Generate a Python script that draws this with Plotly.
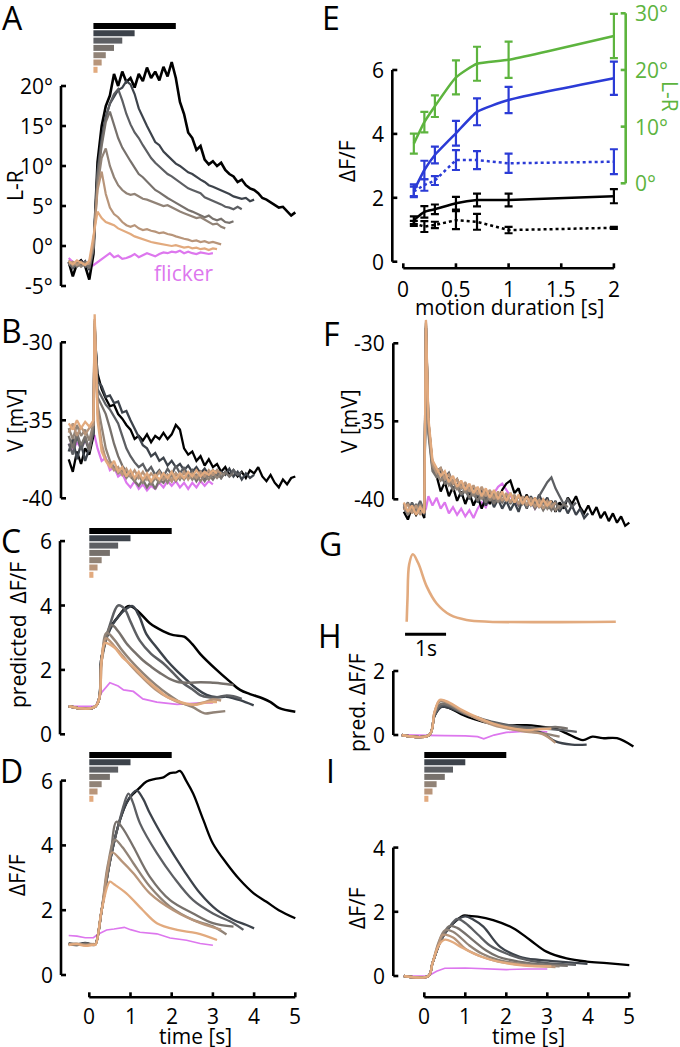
import numpy as np
import plotly.graph_objects as go

W, H = 680, 1047
FONT = "Open Sans"
FS = 21

# ---------------- data ----------------
DUR = [2, 1, 0.7, 0.5, 0.3, 0.2, 0.1]
COLORS = ["#000000", "#3d434b", "#5d5f63", "#77716c", "#918377", "#b8957a", "#e2aa7e"]
FLICKER = "#dd77ee"
BLUE = "#2b3bd6"
GREEN = "#5db43e"

# Panel A: L-R (deg), sampled every 0.1 s from -0.5 s
A_2 = [-2.0, -3.8, -2.2, -1.8, -2.5, -4.2, -1.0, 10.5, 15.0, 17.5, 18.8, 21.5, 20.0, 21.8, 20.5, 21.0, 19.8, 21.5,
       20.6, 22.3, 21.0, 21.8, 20.7, 22.4, 21.2, 23.0, 21.0, 18.0, 16.5, 14.2, 13.5, 12.0, 12.5, 10.8, 10.2, 10.6,
       10.0, 10.4, 9.5, 9.0, 8.7, 8.0, 8.3, 7.6, 7.2, 7.0, 6.6, 6.0, 5.8, 5.5, 5.2, 4.8, 4.9, 4.3, 3.8, 4.2]
A_1 = [-2.3, -2.6, -2.0, -2.4, -1.9, -3.0, -0.5, 9.5, 13.5, 16.2, 17.8, 18.6, 19.5, 19.8, 20.6, 20.2, 19.0, 17.2,
       16.0, 15.0, 14.0, 13.0, 12.6, 11.8, 11.3, 10.8, 10.3, 10.0, 9.6, 9.2, 9.0, 8.6, 8.3, 8.0, 7.6, 7.4, 7.2,
       6.9, 6.7, 6.5, 6.2, 6.0, 5.9, 6.0, 5.6, 5.8]
A_07 = [-2.1, -2.8, -2.3, -1.9, -2.6, -2.5, -0.2, 9.0, 13.0, 16.0, 17.8, 19.0, 19.6, 18.2, 16.5, 15.2, 14.2, 13.5,
        12.6, 11.8, 11.0, 10.4, 9.9, 9.4, 9.0, 8.7, 8.3, 7.9, 7.6, 7.2, 7.0, 6.8, 6.6, 6.1, 5.9, 5.6, 5.4, 5.2,
        4.9, 4.8, 4.6, 4.9, 4.6]
A_05 = [-2.4, -2.0, -2.6, -2.2, -2.0, -2.8, -0.3, 8.5, 12.5, 15.5, 16.8, 15.0, 13.5, 12.3, 11.4, 10.6, 9.8, 9.0,
        8.6, 8.1, 7.6, 7.0, 6.7, 6.3, 6.0, 5.7, 5.4, 5.0, 4.8, 4.5, 4.3, 4.1, 3.9, 3.6, 3.8, 3.4, 3.2, 3.4, 3.0,
        2.9, 3.1]
A_03 = [-1.8, -2.5, -2.1, -2.6, -2.2, -2.0, 0.0, 7.5, 11.0, 12.2, 10.0, 8.6, 7.6, 7.0, 6.6, 6.4, 6.5, 6.2, 5.9,
        5.8, 5.6, 5.3, 5.2, 5.0, 5.1, 4.8, 4.5, 4.3, 4.1, 3.9, 3.7, 3.5, 3.6, 3.3, 3.0, 2.7, 2.8, 2.4, 2.2]
A_02 = [-2.2, -2.0, -2.4, -2.0, -2.3, -2.2, 0.5, 7.0, 9.3, 6.5, 4.8, 4.0, 3.6, 3.0, 2.6, 2.4, 2.6, 2.2, 2.0, 2.1,
        1.9, 1.8, 1.6, 1.7, 1.5, 1.4, 1.2, 1.0, 0.9, 0.8, 0.6, 0.7, 0.5, 0.6, 0.4, 0.5, 0.3, 0.2]
A_01 = [-1.9, -2.3, -1.8, -2.1, -2.4, -1.8, 1.0, 4.3, 3.5, 3.0, 2.8, 2.6, 2.2, 2.0, 1.8, 1.5, 1.2, 1.0, 0.8, 0.7,
        0.5, 0.4, 0.3, 0.2, 0.1, 0.0, 0.1, -0.1, -0.2, -0.1, -0.3, -0.2, -0.4, -0.3, -0.5, -0.3, -0.4]
A_FL = [-1.5, -2.0, -2.2, -1.8, -2.3, -2.6, -2.4, -2.0, -1.6, -1.2, -0.9, -1.4, -1.2, -1.6, -1.5, -1.3, -1.0, -1.4,
        -1.2, -0.9, -1.1, -1.3, -1.0, -0.8, -0.9, -0.7, -0.8, -0.6, -0.9, -0.7, -0.9, -1.0, -0.8, -0.9, -1.0, -0.9]
A_SERIES = [A_2, A_1, A_07, A_05, A_03, A_02, A_01]

# Panel B: V (mV); 7 samples from -0.5 s, one spike sample, then every 0.1 s from 0.2 s
B_2 = [-37.5, -38.3, -37.0, -37.8, -36.8, -37.2, -36.0, -29.5, -32.0, -33.0, -33.6, -34.1, -34.0, -34.6, -34.9,
       -35.3, -35.6, -36.2, -36.0, -36.3, -35.9, -36.4, -36.0, -36.2, -35.8, -36.2, -35.9, -35.3, -35.6, -36.8,
       -37.2, -37.0, -37.6, -37.3, -37.9, -37.5, -38.0, -37.8, -38.3, -38.0, -38.5, -38.2, -38.6, -38.3, -38.7,
       -38.2, -38.4, -38.0, -38.6, -38.9, -38.5, -39.0, -39.3, -38.8, -39.1, -38.7, -38.6]
B_1 = [-37.0, -36.2, -37.5, -36.5, -37.6, -36.8, -35.8, -29.0, -32.5, -32.8, -33.5, -33.4, -33.9, -33.8, -34.5,
       -34.4, -35.0, -35.5, -36.0, -36.6, -36.8, -37.3, -37.1, -37.6, -37.4, -37.9, -37.6, -38.0, -37.8, -38.2,
       -37.9, -38.3, -38.0, -38.4, -38.1, -38.5, -38.2, -38.6, -38.3, -38.5, -38.1, -38.6, -38.3, -38.8, -38.4,
       -38.7, -38.5]
B_07 = [-36.5, -37.2, -36.0, -36.9, -36.2, -37.0, -35.6, -29.0, -33.0, -33.5, -34.0, -34.3, -34.8, -35.2, -36.0,
        -36.8, -37.3, -37.7, -38.0, -37.8, -38.3, -38.0, -38.5, -38.2, -38.6, -38.1, -38.5, -37.9, -38.4, -38.0,
        -38.6, -38.2, -38.7, -38.3, -38.8, -38.4, -38.6, -38.2, -38.7, -38.3, -38.6, -38.2, -38.5, -38.3]
B_05 = [-36.0, -36.8, -35.8, -36.6, -36.0, -36.9, -35.4, -28.8, -33.5, -34.0, -34.6, -35.5, -36.5, -37.3, -37.9,
        -38.3, -38.6, -38.9, -39.2, -38.8, -39.3, -38.9, -39.4, -38.8, -39.0, -38.5, -38.9, -38.4, -38.8, -38.3,
        -38.7, -38.4, -38.9, -38.5, -38.9, -38.5, -38.8, -38.4, -38.7, -38.3, -38.6, -38.4]
B_03 = [-35.5, -36.2, -35.3, -36.0, -35.6, -36.3, -35.2, -28.6, -34.0, -35.5, -36.8, -37.6, -38.0, -38.4, -38.2,
        -38.7, -38.4, -38.9, -38.5, -39.0, -38.6, -39.1, -38.7, -39.0, -38.6, -39.0, -38.5, -38.9, -38.5, -38.8,
        -38.4, -38.8, -38.5, -38.9, -38.5, -38.8, -38.4, -38.7, -38.4, -38.5]
B_02 = [-35.8, -35.2, -36.0, -35.4, -35.9, -35.5, -35.3, -28.5, -34.5, -36.5, -37.5, -37.8, -38.2, -38.0, -38.5,
        -38.1, -38.6, -38.2, -38.7, -38.3, -38.8, -38.4, -38.7, -38.3, -38.8, -38.5, -38.9, -38.4, -38.7, -38.3,
        -38.8, -38.4, -38.7, -38.3, -38.6, -38.2, -38.5, -38.2, -38.4]
B_01 = [-35.2, -35.6, -35.0, -35.5, -35.1, -35.4, -35.0, -28.2, -35.0, -37.0, -37.6, -38.0, -37.6, -38.3, -38.0,
        -38.6, -38.2, -38.7, -38.3, -38.8, -38.4, -38.9, -38.5, -38.8, -38.4, -38.7, -38.3, -38.8, -38.4, -38.7,
        -38.3, -38.6, -38.2, -38.6, -38.3, -38.5, -38.2, -38.4]
B_FL = [-36.5, -37.0, -36.4, -36.8, -36.3, -36.7, -36.0, -36.0, -36.8, -37.6, -37.4, -38.2, -38.0, -38.6, -38.4,
        -39.0, -39.3, -38.9, -39.4, -39.1, -39.5, -39.2, -39.4, -39.0, -39.3, -38.9, -39.2, -38.9, -39.3, -39.0,
        -39.4, -39.0, -39.3, -38.9, -39.2, -38.9, -39.1]
B_SERIES = [B_2, B_1, B_07, B_05, B_03, B_02, B_01]

# Panel F: V (mV); 6 samples from -0.5 s, spike sample, then every 0.1 s from 0.1 s
F_2 = [-40.8, -41.3, -40.5, -41.0, -40.6, -41.2, -29.0, -35.0, -37.8, -38.5, -39.5, -38.9, -39.8, -39.2, -40.1,
       -39.5, -40.3, -39.6, -40.4, -39.8, -40.6, -39.9, -40.3, -39.7, -40.2, -39.4, -39.0, -38.8, -39.6, -39.3,
       -40.2, -39.7, -40.4, -39.9, -40.5, -40.0, -40.6, -40.1, -40.8, -40.2, -40.6, -39.9, -40.3, -39.8, -40.5,
       -40.9, -40.4, -41.0, -40.5, -41.2, -40.8, -41.4, -40.9, -41.5, -41.1, -41.7, -41.5]
F_1 = [-40.5, -41.0, -40.3, -40.9, -40.4, -41.0, -29.0, -35.5, -38.0, -38.4, -38.2, -39.0, -38.6, -39.4, -39.0,
       -39.8, -39.3, -40.0, -39.5, -40.2, -39.7, -40.4, -39.8, -40.5, -40.0, -40.6, -40.1, -40.7, -40.2, -40.8,
       -40.0, -40.6, -39.8, -40.4, -39.7, -40.3, -39.9, -40.6, -40.1, -40.8, -40.3, -40.9, -40.4, -41.0, -40.6,
       -41.2, -40.9]
F_07 = [-40.3, -40.9, -40.2, -40.7, -40.1, -40.8, -28.9, -35.2, -37.8, -38.2, -38.0, -38.6, -38.3, -39.0, -38.7,
        -39.3, -39.0, -39.6, -39.2, -39.8, -39.4, -40.0, -39.5, -40.1, -39.6, -40.2, -39.7, -40.2, -39.8, -40.3,
        -39.9, -40.4, -40.0, -40.3, -39.8, -39.3, -38.9, -38.6, -39.3, -39.8, -40.3, -40.0, -40.5, -40.2]
F_05 = [-40.6, -40.2, -40.8, -40.3, -40.9, -40.4, -28.8, -35.8, -38.2, -38.6, -38.4, -39.0, -38.8, -39.4, -39.1,
        -39.7, -39.3, -39.9, -39.5, -40.1, -39.6, -40.2, -39.7, -40.3, -39.8, -40.2, -39.7, -40.3, -39.9, -40.4,
        -40.0, -40.5, -40.1, -40.6, -40.2, -40.7, -40.3, -40.7, -40.2, -40.6, -40.3, -40.5]
F_03 = [-40.4, -41.0, -40.5, -40.9, -40.3, -40.8, -28.7, -35.3, -37.9, -38.4, -38.8, -38.5, -39.1, -38.8, -39.4,
        -39.0, -39.6, -39.2, -39.8, -39.4, -40.0, -39.5, -40.1, -39.6, -40.2, -39.7, -40.1, -39.6, -40.2, -39.8,
        -40.3, -39.9, -40.4, -40.0, -40.5, -40.1, -40.6, -40.2, -40.7, -40.4]
F_02 = [-40.7, -40.3, -40.9, -40.4, -41.0, -40.5, -28.6, -35.0, -37.7, -38.3, -38.0, -38.7, -38.4, -39.0, -38.7,
        -39.3, -38.9, -39.5, -39.1, -39.7, -39.2, -39.8, -39.4, -40.0, -39.5, -40.1, -39.6, -40.2, -39.7, -40.3,
        -39.8, -40.4, -39.9, -40.5, -40.0, -40.6, -40.1, -40.5, -40.2]
F_01 = [-40.2, -40.8, -40.4, -41.0, -40.5, -40.9, -28.5, -34.8, -37.5, -38.0, -38.5, -38.2, -38.9, -38.5, -39.2,
        -38.8, -39.4, -39.0, -39.6, -39.2, -39.8, -39.3, -39.9, -39.4, -40.0, -39.5, -40.1, -39.6, -40.2, -39.7,
        -40.3, -39.8, -40.4, -39.9, -40.5, -40.0, -40.4, -40.1]
F_FL = [-40.5, -40.9, -40.4, -40.8, -40.5, -40.8, -40.6, -39.8, -40.4, -39.9, -40.6, -40.2, -40.9, -40.5, -41.0,
        -40.6, -41.1, -40.7, -41.2, -40.6, -40.2, -40.5, -39.9, -39.6, -39.2, -39.0, -39.4, -39.8, -40.1, -40.4,
        -40.0, -40.5, -40.1, -40.6, -40.2, -40.6, -40.3]
F_SERIES = [F_2, F_1, F_07, F_05, F_03, F_02, F_01]

# Panel C: predicted dF/F (time, value) knots
C_T = [
    [-0.5, 0.15, 0.3, 0.5, 0.7, 0.9, 1.0, 1.2, 1.47, 1.8, 2.04, 2.3, 2.5, 2.69, 3.09, 3.4, 3.66, 3.9, 4.2, 4.4, 4.6, 5.0],
    [-0.5, 0.15, 0.3, 0.5, 0.7, 0.9, 1.05, 1.2, 1.39, 1.6, 1.88, 2.1, 2.36, 2.6, 2.85, 3.1, 3.33, 3.5, 3.66, 3.99],
    [-0.5, 0.15, 0.3, 0.5, 0.7, 0.85, 1.0, 1.23, 1.5, 1.8, 2.0, 2.29, 2.5, 2.69, 2.9, 3.1, 3.3, 3.5, 3.7],
    [-0.5, 0.15, 0.3, 0.54, 0.7, 0.9, 1.1, 1.3, 1.5, 1.72, 1.95, 2.13, 2.4, 2.7, 3.0, 3.2, 3.5],
    [-0.5, 0.15, 0.3, 0.42, 0.6, 0.8, 1.0, 1.3, 1.6, 1.9, 2.2, 2.5, 2.8, 3.0, 3.3],
    [-0.5, 0.15, 0.3, 0.4, 0.6, 0.8, 1.0, 1.3, 1.6, 1.9, 2.2, 2.5, 2.8, 3.0, 3.2],
    [-0.5, 0.15, 0.3, 0.38, 0.6, 0.8, 1.07, 1.3, 1.47, 1.7, 1.88, 2.1, 2.36, 2.6, 2.8, 3.0, 3.1],
]
C_V = [
    [0.87, 0.87, 2.4, 3.3, 3.65, 3.95, 3.98, 3.8, 3.45, 3.2, 3.08, 3.03, 2.8, 2.5, 2.0, 1.65, 1.38, 1.25, 1.12, 1.0, 0.82, 0.7],
    [0.87, 0.87, 2.4, 3.25, 3.65, 3.9, 3.98, 3.7, 3.1, 2.75, 2.3, 2.0, 1.69, 1.42, 1.22, 1.15, 1.17, 1.12, 1.06, 0.9],
    [0.87, 0.87, 2.4, 3.4, 4.0, 3.9, 3.5, 2.9, 2.5, 2.2, 1.95, 1.58, 1.4, 1.22, 1.15, 1.15, 1.2, 1.18, 1.1],
    [0.87, 0.87, 2.3, 3.39, 3.2, 2.83, 2.55, 2.3, 2.1, 1.9, 1.72, 1.63, 1.6, 1.62, 1.6, 1.58, 1.53],
    [0.87, 0.87, 2.3, 3.15, 2.95, 2.6, 2.3, 1.9, 1.55, 1.25, 1.0, 0.85, 0.65, 0.68, 0.72],
    [0.87, 0.87, 2.3, 2.98, 2.75, 2.45, 2.15, 1.75, 1.4, 1.15, 0.98, 0.92, 1.0, 1.08, 1.05],
    [0.87, 0.87, 2.3, 2.83, 2.7, 2.4, 2.1, 1.8, 1.6, 1.35, 1.17, 1.05, 0.95, 0.92, 0.98, 1.0, 1.0],
]
C_FL_T = [-0.5, 0.15, 0.3, 0.5, 0.7, 0.83, 1.07, 1.3, 1.64, 2.13, 2.6, 3.0]
C_FL_V = [0.87, 0.87, 1.3, 1.6, 1.5, 1.38, 1.33, 1.1, 1.0, 0.93, 0.97, 0.98]

# Panel D: measured dF/F
D_T = [
    [-0.5, -0.3, -0.1, 0.1, 0.15, 0.3, 0.5, 0.7, 0.9, 1.0, 1.2, 1.39, 1.6, 1.8, 1.96, 2.1, 2.2, 2.35, 2.52, 2.77, 3.0, 3.33, 3.66, 3.99, 4.3, 4.6, 5.0],
    [-0.5, -0.3, -0.1, 0.1, 0.15, 0.3, 0.5, 0.7, 0.9, 1.05, 1.15, 1.3, 1.47, 1.88, 2.29, 2.69, 3.1, 3.5, 3.8, 4.0],
    [-0.5, -0.3, -0.1, 0.1, 0.15, 0.3, 0.5, 0.7, 0.85, 0.95, 1.05, 1.23, 1.64, 2.04, 2.52, 3.0, 3.5, 3.74],
    [-0.5, -0.3, -0.1, 0.1, 0.15, 0.3, 0.5, 0.66, 0.8, 1.07, 1.47, 1.96, 2.52, 3.0, 3.5],
    [-0.5, -0.3, -0.1, 0.1, 0.15, 0.3, 0.45, 0.62, 0.8, 1.07, 1.47, 1.96, 2.52, 3.0, 3.33],
    [-0.5, -0.3, -0.1, 0.1, 0.15, 0.3, 0.45, 0.55, 0.8, 1.07, 1.47, 2.04, 2.7, 3.2],
    [-0.5, -0.3, -0.1, 0.1, 0.15, 0.3, 0.5, 0.6, 0.9, 1.3, 1.64, 2.13, 2.6, 3.1],
]
D_V = [
    [0.95, 0.92, 0.98, 0.93, 0.95, 2.0, 3.5, 4.6, 5.3, 5.5, 5.75, 5.97, 6.05, 6.1, 6.23, 6.25, 6.3, 6.0, 5.6, 4.78, 4.06, 3.45, 2.93, 2.52, 2.26, 2.0, 1.75],
    [0.97, 0.94, 0.99, 0.92, 0.95, 2.0, 3.5, 4.6, 5.3, 5.6, 5.7, 5.45, 4.99, 4.06, 3.24, 2.52, 2.0, 1.7, 1.55, 1.44],
    [0.98, 0.95, 0.96, 0.94, 0.95, 2.0, 3.5, 4.6, 5.3, 5.6, 5.35, 4.68, 3.76, 3.03, 2.31, 1.9, 1.6, 1.39],
    [0.96, 0.93, 0.97, 0.95, 0.95, 2.0, 3.5, 4.73, 4.55, 3.96, 3.03, 2.31, 1.9, 1.6, 1.49],
    [0.94, 0.96, 0.92, 0.95, 0.95, 2.0, 3.4, 4.17, 3.95, 3.45, 2.73, 2.11, 1.7, 1.5, 1.25],
    [0.95, 0.97, 0.93, 0.96, 0.95, 2.0, 3.3, 3.78, 3.5, 3.14, 2.52, 2.0, 1.6, 1.4],
    [0.92, 0.95, 0.90, 0.93, 0.93, 2.0, 2.88, 2.8, 2.52, 2.0, 1.6, 1.39, 1.29, 1.08],
]
D_FL_T = [-0.5, -0.3, -0.1, 0.1, 0.2, 0.42, 0.6, 0.75, 0.85, 1.0, 1.23, 1.64, 1.96, 2.36, 2.69, 3.0]
D_FL_V = [1.22, 1.2, 1.15, 1.15, 1.25, 1.39, 1.42, 1.44, 1.47, 1.4, 1.32, 1.27, 1.14, 1.07, 0.97, 0.92]

# Panel E: summary vs motion duration
E_X = [0.1, 0.2, 0.3, 0.5, 0.7, 1, 2]
E_X_TICKS = [0, 0.5, 1, 1.5, 2]
E_GREEN = [7.0, 10.8, 13.6, 18.7, 21.1, 21.8, 26.0]
E_GREEN_ERR = [1.75, 1.8, 1.9, 3.0, 3.0, 3.2, 3.9]
E_BLUE = [2.22, 2.87, 3.34, 4.02, 4.69, 5.06, 5.74]
E_BLUE_ERR = [0.2, 0.29, 0.26, 0.39, 0.42, 0.41, 0.52]
E_BLUE_DOT = [2.2, 2.4, 2.54, 3.18, 3.18, 3.08, 3.13]
E_BLUE_DOT_ERR = [0.15, 0.18, 0.14, 0.31, 0.28, 0.3, 0.39]
E_BLACK = [1.3, 1.56, 1.64, 1.83, 1.93, 1.93, 2.05]
E_BLACK_ERR = [0.12, 0.18, 0.15, 0.2, 0.2, 0.2, 0.22]
E_BLACK_DOT = [1.2, 1.1, 1.15, 1.3, 1.25, 0.99, 1.06]
E_BLACK_DOT_ERR = [0.08, 0.17, 0.1, 0.28, 0.25, 0.1, 0.03]

# Panel G: kernel
G_T = [0.0, 0.02, 0.06, 0.15, 0.28, 0.49, 0.73, 1.06, 1.46, 2.0, 5.1]
G_V = [0.0, 0.35, 0.85, 1.0, 0.87, 0.52, 0.27, 0.1, 0.025, 0.0, 0.0]

# Panel H: predicted dF/F (local)
H_T = [
    [-0.55, 0.12, 0.25, 0.4, 0.6, 0.9, 1.2, 1.6, 2.0, 2.5, 2.85, 3.2, 3.47, 3.87, 4.1, 4.35, 4.7, 5.1],
    [-0.55, 0.12, 0.25, 0.42, 0.6, 0.9, 1.3, 1.7, 2.1, 2.5, 2.9, 3.2, 3.6, 3.96],
    [-0.55, 0.12, 0.25, 0.42, 0.6, 0.9, 1.3, 1.7, 2.1, 2.5, 2.9, 3.3, 3.72],
    [-0.55, 0.12, 0.25, 0.4, 0.6, 0.9, 1.3, 1.7, 2.1, 2.5, 2.9, 3.2, 3.5],
    [-0.55, 0.12, 0.25, 0.38, 0.6, 0.9, 1.3, 1.7, 2.1, 2.5, 2.9, 3.3],
    [-0.55, 0.12, 0.25, 0.38, 0.6, 0.9, 1.3, 1.7, 2.1, 2.5, 2.9, 3.2],
    [-0.55, 0.12, 0.25, 0.38, 0.6, 0.9, 1.3, 1.7, 2.1, 2.5, 2.8, 3.1],
]
H_V = [
    [0, 0, 0.6, 0.88, 0.85, 0.65, 0.5, 0.36, 0.3, 0.31, 0.26, 0.2, 0.05, -0.16, -0.05, -0.1, -0.1, -0.36],
    [0, 0, 0.6, 0.88, 0.85, 0.7, 0.52, 0.38, 0.28, 0.2, 0.05, -0.2, -0.3, -0.3],
    [0, 0, 0.62, 0.92, 0.9, 0.72, 0.55, 0.4, 0.3, 0.25, 0.2, 0.16, 0.1],
    [0, 0, 0.65, 0.97, 0.93, 0.72, 0.52, 0.36, 0.26, 0.2, 0.22, 0.25, 0.2],
    [0, 0, 0.7, 1.05, 0.98, 0.75, 0.5, 0.32, 0.2, 0.12, 0.05, -0.05],
    [0, 0, 0.72, 1.08, 1.0, 0.76, 0.5, 0.3, 0.18, 0.1, 0.02, -0.25],
    [0, 0, 0.72, 1.1, 1.02, 0.8, 0.55, 0.35, 0.22, 0.15, 0.18, 0.2],
]
H_FL_T = [-0.55, 0.12, 0.5, 1.0, 1.3, 1.45, 1.7, 2.0, 2.5, 3.0]
H_FL_V = [0, 0, -0.02, -0.03, -0.05, -0.12, 0.0, 0.08, 0.12, 0.1]

# Panel I: measured dF/F (local)
I_T = [
    [-0.5, 0.1, 0.2, 0.4, 0.6, 0.8, 0.95, 1.1, 1.3, 1.68, 2.17, 2.58, 2.98, 3.47, 3.96, 4.45, 5.0],
    [-0.5, 0.1, 0.2, 0.4, 0.6, 0.8, 1.0, 1.2, 1.44, 1.85, 2.33, 2.8, 3.3, 3.98],
    [-0.5, 0.1, 0.2, 0.4, 0.6, 0.8, 1.0, 1.3, 1.6, 2.0, 2.5, 3.0, 3.7],
    [-0.5, 0.1, 0.2, 0.4, 0.6, 0.8, 1.2, 1.5, 1.8, 2.3, 3.0, 3.5],
    [-0.5, 0.1, 0.2, 0.35, 0.5, 0.7, 1.1, 1.4, 1.8, 2.5, 3.3],
    [-0.5, 0.1, 0.2, 0.35, 0.45, 0.7, 1.0, 1.4, 1.8, 2.5, 3.2],
    [-0.5, 0.1, 0.2, 0.35, 0.5, 0.7, 0.9, 1.4, 2.0, 2.5, 3.1],
]
I_V = [
    [0, 0, 0.4, 1.1, 1.5, 1.75, 1.88, 1.87, 1.85, 1.74, 1.49, 1.12, 0.76, 0.55, 0.45, 0.4, 0.34],
    [0, 0, 0.4, 1.1, 1.5, 1.75, 1.86, 1.75, 1.54, 0.91, 0.6, 0.5, 0.45, 0.38],
    [0, 0, 0.4, 1.1, 1.5, 1.78, 1.65, 1.3, 0.95, 0.7, 0.5, 0.4, 0.35],
    [0, 0, 0.4, 1.1, 1.55, 1.5, 1.1, 0.8, 0.6, 0.45, 0.35, 0.32],
    [0, 0, 0.4, 1.05, 1.42, 1.38, 0.95, 0.7, 0.5, 0.36, 0.3],
    [0, 0, 0.4, 1.0, 1.28, 1.2, 0.85, 0.6, 0.45, 0.33, 0.28],
    [0, 0, 0.4, 0.95, 1.13, 1.05, 0.9, 0.6, 0.4, 0.32, 0.3],
]
I_FL_T = [-0.5, 0.1, 0.3, 0.5, 1.0, 1.5, 2.0, 2.5, 3.0]
I_FL_V = [0, 0, 0.15, 0.24, 0.25, 0.22, 0.2, 0.22, 0.22]

TIME_TICKS = [0, 1, 2, 3, 4, 5]

# ---------------- helpers ----------------
fig = go.Figure()
axes_layout = {}
_count = [0]


def fx(px):
    return px / W


def fy(py):
    return 1 - py / H


def make_panel(rect, xmap, ymap):
    _count[0] += 1
    i = _count[0]
    s = "" if i == 1 else str(i)
    l, t, r, b = rect
    l, t = max(l, 0), max(t, 0)
    r, b = min(r, W), min(b, H)
    xv, xp, sx = xmap
    yv, yp, sy = ymap
    xr = [xv + (l - xp) / sx, xv + (r - xp) / sx]
    yr = [yv + (yp - b) / sy, yv + (yp - t) / sy]
    axes_layout["xaxis" + s] = dict(domain=[fx(l), fx(r)], range=xr, visible=False,
                                    anchor="y" + s, fixedrange=True)
    axes_layout["yaxis" + s] = dict(domain=[fy(b), fy(t)], range=yr, visible=False,
                                    anchor="x" + s, fixedrange=True)
    return dict(x="x" + s, y="y" + s, xmap=xmap, ymap=ymap)


def px2x(P, px):
    v, p, s = P["xmap"]
    return v + (px - p) / s


def px2y(P, py):
    v, p, s = P["ymap"]
    return v + (p - py) / s


def line(P, xs, ys, color="black", width=2.2, dash=None, shape="linear"):
    fig.add_trace(go.Scatter(x=list(xs), y=list(ys), mode="lines",
                             line=dict(color=color, width=width, dash=dash, shape=shape),
                             xaxis=P["x"], yaxis=P["y"], hoverinfo="skip", showlegend=False))


def text(x, y, s, size=FS, color="black", xanchor="center", yanchor="middle", angle=0,
         xref="paper", yref="paper"):
    # x / y are pixels when the ref is 'paper', data values otherwise
    if xref == "paper":
        x = fx(x)
    if yref == "paper":
        y = fy(y)
    fig.add_annotation(x=x, y=y, xref=xref, yref=yref, text=s, showarrow=False,
                       xanchor=xanchor, yanchor=yanchor, textangle=angle,
                       font=dict(family=FONT, size=size, color=color))


def vaxis(P, ax_px, v0, v1, ticks, labels, side="left", color="black", tl=5, off=6):
    xa = px2x(P, ax_px)
    d = (1 if side == "left" else -1) * tl / P["xmap"][2]
    xs, ys = [xa, xa], [v0, v1]
    for tv in ticks:
        xs += [None, xa, xa + d]
        ys += [None, tv, tv]
    line(P, xs, ys, color=color, width=2.6)
    for tv, lab in zip(ticks, labels):
        if side == "left":
            text(ax_px - off, tv, lab, xanchor="right", yref=P["y"], color=color)
        else:
            text(ax_px + off, tv, lab, xanchor="left", yref=P["y"], color=color)


def haxis(P, ax_py, v0, v1, ticks, labels, tl=5, lab_py=None):
    ya = px2y(P, ax_py)
    d = tl / P["ymap"][2]
    xs, ys = [v0, v1], [ya, ya]
    for tv in ticks:
        xs += [None, tv, tv]
        ys += [None, ya, ya + d]
    line(P, xs, ys, width=2.6)
    for tv, lab in zip(ticks, labels):
        text(tv, lab_py, lab, xref=P["x"], yanchor="middle")


def bars(P, top_px, t0=0.0, step=7.3, h=6.0):
    for k, (d, c) in enumerate(zip(DUR, COLORS)):
        y1 = px2y(P, top_px + k * step)
        y0 = px2y(P, top_px + k * step + h)
        fig.add_trace(go.Scatter(x=[t0, t0 + d, t0 + d, t0, t0], y=[y0, y0, y1, y1, y0], mode="lines",
                                 fill="toself", fillcolor=c, line=dict(width=0, color=c),
                                 xaxis=P["x"], yaxis=P["y"], hoverinfo="skip", showlegend=False))


def grid_A(v):
    return [-0.5 + 0.1 * i for i in range(len(v))]


def grid_B(v):
    return [-0.5 + 0.1 * i for i in range(7)] + [0.13] + [0.2 + 0.1 * i for i in range(len(v) - 8)]


def grid_F(v):
    return [-0.5 + 0.1 * i for i in range(6)] + [0.04] + [0.1 + 0.1 * i for i in range(len(v) - 7)]


def letter(px, py, s):
    text(px, py, s, size=32, xanchor="center")


# ---------------- panel A ----------------
PA = make_panel((55, 15, 305, 300), (0, 89.3, 41.2), (0, 246, 8.0))
line(PA, grid_A(A_FL), A_FL, color=FLICKER, width=2.2)
for v, c in zip(A_SERIES, COLORS):
    line(PA, grid_A(v), v, color=c, width=2.6 if c == "#000000" else 2.2)
bars(PA, 23, t0=0.1)
vaxis(PA, 61, -5, 20, [-5, 0, 5, 10, 15, 20], ["-5°", "0°", "5°", "10°", "15°", "20°"])
text(15, 186, "L-R", angle=-90)
text(184, 273, "flicker", color=FLICKER)
letter(12, 17, "A")

# ---------------- panel B ----------------
PB = make_panel((55, 300, 305, 505), (0, 89.3, 41.2), (-30, 342.3, 15.6))
line(PB, grid_B(B_FL), B_FL, color=FLICKER, width=2.2)
for v, c in zip(B_SERIES, COLORS):
    line(PB, grid_B(v), v, color=c, width=2.3)
vaxis(PB, 61, -40, -30, [-40, -35, -30], ["-40", "-35", "-30"])
text(15, 420, "V [mV]", angle=-90)
letter(11, 330, "B")

# ---------------- panel C ----------------
PC = make_panel((55, 520, 305, 745), (0, 89.3, 41.2), (0, 734.3, 32.2))
line(PC, C_FL_T, C_FL_V, color=FLICKER, width=1.8)
for t, v, c in zip(C_T, C_V, COLORS):
    line(PC, t, v, color=c, width=2.5, shape="spline")
bars(PC, 528)
vaxis(PC, 60, 0, 6, [0, 2, 4, 6], ["0", "2", "4", "6"])
text(18, 635, "predicted  ΔF/F", angle=-90)
letter(11, 540, "C")

# ---------------- panel D ----------------
PD = make_panel((55, 745, 305, 1005), (0, 89.3, 41.2), (0, 975, 32.4))
line(PD, D_FL_T, D_FL_V, color=FLICKER, width=1.6)
for t, v, c in zip(D_T, D_V, COLORS):
    line(PD, t, v, color=c, width=2.3, shape="spline")
bars(PD, 752)
vaxis(PD, 61, 0, 6, [0, 2, 4, 6], ["0", "2", "4", "6"])
haxis(PD, 997.3, 0, 5, TIME_TICKS, [str(v) for v in TIME_TICKS], lab_py=1016)
text(17, 875, "ΔF/F", angle=-90)
text(195, 1036, "time [s]")
letter(11, 770, "D")

# ---------------- panel E ----------------
PE = make_panel((385, 5, 640, 275), (0, 403.3, 105.3), (0, 261.7, 31.95))
PE2 = make_panel((385, 5, 640, 275), (0, 403.3, 105.3), (0, 183.3, 5.667))


def err_line(P, y, e, color, dash=None):
    fig.add_trace(go.Scatter(x=E_X, y=y, mode="lines",
                             line=dict(color=color, width=2.5, dash=dash,
                                       shape="linear" if dash else "spline", smoothing=0.5),
                             error_y=dict(type="data", array=e, color=color, thickness=2.2, width=4),
                             xaxis=P["x"], yaxis=P["y"], hoverinfo="skip", showlegend=False))


err_line(PE, E_BLACK_DOT, E_BLACK_DOT_ERR, "black", dash="dot")
err_line(PE, E_BLACK, E_BLACK_ERR, "black")
err_line(PE, E_BLUE_DOT, E_BLUE_DOT_ERR, BLUE, dash="dot")
err_line(PE, E_BLUE, E_BLUE_ERR, BLUE)
err_line(PE2, E_GREEN, E_GREEN_ERR, GREEN)
vaxis(PE, 392.3, 0, 6, [0, 2, 4, 6], ["0", "2", "4", "6"])
haxis(PE, 268.3, 0, 2, E_X_TICKS, ["0", "0.5", "1", "1.5", "2"], lab_py=289)
vaxis(PE2, 625.7, 0, 30, [0, 10, 20, 30], ["0°", "10°", "20°", "30°"], side="right", color=GREEN, off=7)
text(347, 161, "ΔF/F", angle=-90)
text(670, 96, "L-R", angle=90, color=GREEN)
text(509, 307, "motion duration [s]")
letter(331, 18, "E")

# ---------------- panel F ----------------
PF = make_panel((385, 310, 640, 535), (0, 424.3, 41.0), (-30, 343.3, 15.6))
line(PF, grid_F(F_FL), F_FL, color=FLICKER, width=2.2)
for v, c in zip(F_SERIES, COLORS):
    line(PF, grid_F(v), v, color=c, width=2.3)
vaxis(PF, 393.3, -40, -30, [-40, -35, -30], ["-40", "-35", "-30"])
text(349, 421, "V [mV]", angle=-90)
letter(331, 333, "F")

# ---------------- panel G ----------------
PG = make_panel((395, 540, 640, 640), (0, 406.7, 41.0), (0, 621.7, 67.4))
line(PG, G_T, G_V, color=COLORS[-1], width=2.6, shape="spline")
SB_OFF = -0.04
line(PG, [SB_OFF, SB_OFF + 1.0], [px2y(PG, 634.3)] * 2, color="black", width=3)
text(426, 648, "1s")
letter(330, 543, "G")

# ---------------- panel H ----------------
PH = make_panel((385, 655, 640, 750), (0, 424.3, 41.0), (0, 735, 32.0))
line(PH, H_FL_T, H_FL_V, color=FLICKER, width=1.8)
for t, v, c in zip(H_T, H_V, COLORS):
    line(PH, t, v, color=c, width=2.3, shape="spline")
vaxis(PH, 393.3, 0, 2, [0, 2], ["0", "2"])
text(357, 703, "pred. ΔF/F", angle=-90)
letter(330, 635, "H")

# ---------------- panel I ----------------
PI = make_panel((385, 745, 640, 1005), (0, 424.3, 41.0), (0, 976, 32.1))
line(PI, I_FL_T, I_FL_V, color=FLICKER, width=1.6)
for t, v, c in zip(I_T, I_V, COLORS):
    line(PI, t, v, color=c, width=2.3, shape="spline")
bars(PI, 752)
vaxis(PI, 393.3, 0, 4, [0, 2, 4], ["0", "2", "4"])
haxis(PI, 997.3, 0, 5, TIME_TICKS, [str(v) for v in TIME_TICKS], lab_py=1016)
text(357, 908, "ΔF/F", angle=-90)
text(528, 1036, "time [s]")
letter(330, 770, "I")

fig.update_layout(width=W, height=H, margin=dict(l=0, r=0, t=0, b=0),
                  paper_bgcolor="white", plot_bgcolor="rgba(0,0,0,0)",
                  showlegend=False, font=dict(family=FONT, size=FS, color="black"),
                  **axes_layout)
# remove the page's default 8 px body margin so the figure sits at the window origin
fig.write_html("out.html", config={"displayModeBar": False, "staticPlot": True},
               post_script="document.body.style.margin='0px';document.body.style.overflow='hidden';")
